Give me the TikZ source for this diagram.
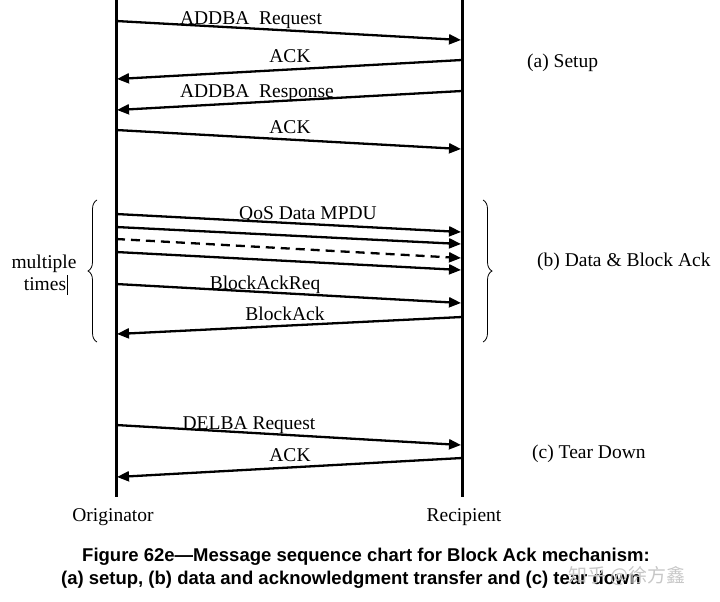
\documentclass[tikz,border=0pt]{standalone}
\usepackage{fontspec}
\setmainfont{Liberation Serif}
\newfontfamily\capfont{Liberation Sans}
\newfontfamily\cjkfont{Noto Sans CJK SC}
\usetikzlibrary{arrows.meta,decorations.pathreplacing}
\tikzset{
  lifeline/.style={line width=3pt},
  msg/.style={line width=2.3pt,-{Triangle[length=12pt,width=10pt]}},
  msgdash/.style={msg,dash pattern=on 9pt off 6pt},
  lbl/.style={font=\fontsize{19.5}{22}\selectfont,anchor=base,inner sep=0pt},
  side/.style={font=\fontsize{19.5}{22}\selectfont,anchor=base west,inner sep=0pt},
  captext/.style={font=\capfont\bfseries\fontsize{18.5}{22}\selectfont,anchor=base,inner sep=0pt},
  bracestyle/.style={line width=0.8pt,decorate,decoration={brace,amplitude=9pt}}
}
\begin{document}
\begin{tikzpicture}[x=1pt,y=-1pt]
\useasboundingbox (0,0) rectangle (720,602);
% lifelines
\coordinate (Otop) at (116,0);
\coordinate (Obot) at (116,497);
\coordinate (Rtop) at (462,0);
\coordinate (Rbot) at (462,497);
\draw[lifeline] (Otop) -- (Obot);
\draw[lifeline] (Rtop) -- (Rbot);
% endpoints
\coordinate (a1) at (116,21);  \coordinate (b1) at (461,40);
\coordinate (a2) at (462,60);  \coordinate (b2) at (117,79);
\coordinate (a3) at (462,91);  \coordinate (b3) at (117,110);
\coordinate (a4) at (116,130); \coordinate (b4) at (461,149);
\coordinate (a5) at (116,214); \coordinate (b5) at (461,232);
\coordinate (a6) at (116,227); \coordinate (b6) at (461,244);
\coordinate (a7) at (116,239); \coordinate (b7) at (461,258);
\coordinate (a8) at (116,252); \coordinate (b8) at (461,270);
\coordinate (a9) at (116,284); \coordinate (b9) at (461,303);
\coordinate (a10) at (462,317); \coordinate (b10) at (117,334);
\coordinate (a11) at (116,425); \coordinate (b11) at (461,445);
\coordinate (a12) at (462,458); \coordinate (b12) at (117,477);
\draw[msg] (a1) -- (b1);
\draw[msg] (a2) -- (b2);
\draw[msg] (a3) -- (b3);
\draw[msg] (a4) -- (b4);
\draw[msg] (a5) -- (b5);
\draw[msg] (a6) -- (b6);
\draw[msgdash] (a7) -- (b7);
\draw[msg] (a8) -- (b8);
\draw[msg] (a9) -- (b9);
\draw[msg] (a10) -- (b10);
\draw[msg] (a11) -- (b11);
\draw[msg] (a12) -- (b12);
% labels
\node[lbl] (l1) at (251,24.5) {ADDBA\ \ Request};
\node[lbl] (l2) at (290,63) {ACK};
\node[lbl] (l3) at (257,97) {ADDBA\ \ Response};
\node[lbl] (l4) at (290,133) {ACK};
\node[lbl] (l5) at (308,219) {QoS Data MPDU};
\node[lbl] (l6) at (265,289) {BlockAckReq};
\node[lbl] (l7) at (285,320) {BlockAck};
\node[lbl] (l8) at (249,429) {DELBA Request};
\node[lbl] (l9) at (290,461) {ACK};
\node[side] (sa) at (527,67) {(a) Setup};
\node[side] (sb) at (537,266) {(b) Data \& Block Ack};
\node[side] (sc) at (532,458) {(c) Tear Down};
\node[lbl] (mu) at (44,268) {multiple};
\node[lbl] (ti) at (45,290) {times};
\coordinate (cur1) at (67,275);
\coordinate (cur2) at (67,295);
\draw[line width=0.8pt] (cur1) -- (cur2);
\node[lbl] (orig) at (113,521) {Originator};
\node[lbl] (reci) at (464,521) {Recipient};
% braces
\coordinate (lb1) at (97,342); \coordinate (lb2) at (97,200);
\coordinate (rb1) at (483,200); \coordinate (rb2) at (483,342);
\draw[bracestyle] (lb1) -- (lb2);
\draw[bracestyle] (rb1) -- (rb2);
% caption
\node[captext] (c1) at (366,561) {Figure 62e—Message sequence chart for Block Ack mechanism:};
\node[captext] (c2) at (351,584) {(a) setup, (b) data and acknowledgment transfer and (c) tear down};
\node[anchor=base west,inner sep=0pt,text=black!22,font=\cjkfont\fontsize{19}{22}\selectfont] (wm) at (568,582) {知乎 @徐方鑫};
\end{tikzpicture}
\end{document}
